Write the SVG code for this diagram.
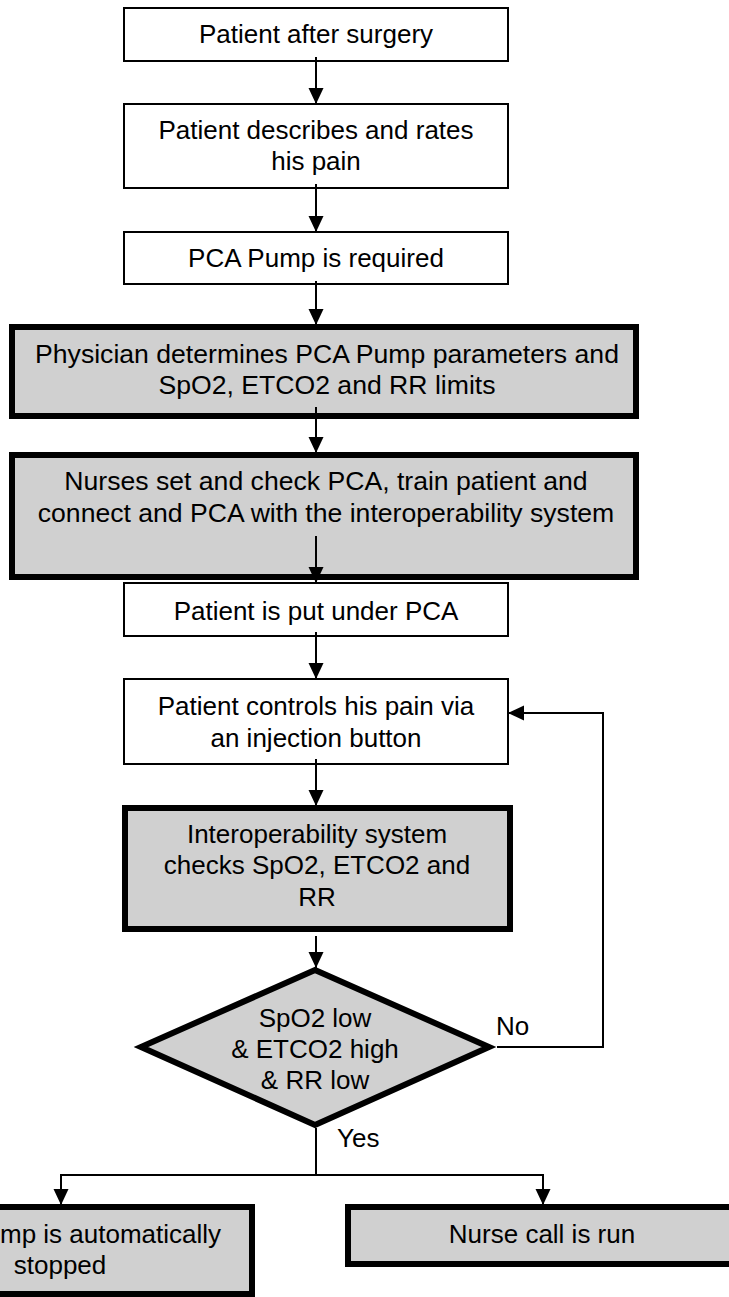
<svg xmlns="http://www.w3.org/2000/svg" width="729" height="1297" viewBox="0 0 729 1297">
<defs>
<style>
text{font-family:"Liberation Sans",Arial,sans-serif;font-size:26px;fill:#000;text-anchor:middle}
.wide{font-size:26.6px}
.thin{fill:#fff;stroke:#000;stroke-width:2}
.thick{fill:#d0d0d0;stroke:#000;stroke-width:6}
.conn{fill:none;stroke:#000;stroke-width:2}
</style>
<marker id="arr" markerUnits="userSpaceOnUse" markerWidth="16" markerHeight="16" refX="16" refY="7.5" orient="auto">
<path d="M0,0 L16,7.5 L0,15 z" fill="#000"/>
</marker>
</defs>
<rect width="729" height="1297" fill="#fff"/>
<g id="n1"><rect class="thin" x="124" y="8" width="384" height="53"/><text x="316" y="43">Patient after surgery</text></g>
<g id="n2"><rect class="thin" x="124" y="104" width="384" height="84"/><text x="316" y="139">Patient describes and rates</text><text x="316" y="170">his pain</text></g>
<g id="n3"><rect class="thin" x="124" y="232" width="384" height="52"/><text x="316" y="267">PCA Pump is required</text></g>
<g id="n4"><rect class="thick" x="12" y="327" width="624" height="89"/><text class="wide" x="327" y="363">Physician determines PCA Pump parameters and</text><text class="wide" x="327" y="394">SpO2, ETCO2 and RR limits</text></g>
<g id="n5"><rect class="thick" x="12" y="455" width="624" height="122"/><text class="wide" x="326" y="490">Nurses set and check PCA, train patient and</text><text class="wide" x="326" y="522">connect and PCA with the interoperability system</text></g>
<g id="n6"><rect class="thin" x="124" y="583" width="384" height="53"/><text x="316" y="620">Patient is put under PCA</text></g>
<g id="n7"><rect class="thin" x="124" y="679" width="384" height="85"/><text x="316" y="715">Patient controls his pain via</text><text x="316" y="747">an injection button</text></g>
<g id="n8"><rect class="thick" x="125" y="808" width="385" height="121"/><text x="317" y="843">Interoperability system</text><text x="317" y="874">checks SpO2, ETCO2 and</text><text x="317" y="906">RR</text></g>
<g id="n9"><polygon class="thick" points="315,970 489,1047 315,1125 141,1047"/><text x="315" y="1027">SpO2 low</text><text x="315" y="1058">&amp; ETCO2 high</text><text x="315" y="1089">&amp; RR low</text></g>
<g id="n10"><rect class="thick" x="-20" y="1207" width="272" height="87"/><text x="0" y="1243" style="text-anchor:start">mp is automatically</text><text x="60" y="1274">stopped</text></g>
<g id="n11"><rect class="thick" x="348" y="1207" width="400" height="57"/><text x="542" y="1243">Nurse call is run</text></g>
<g id="connectors">
<line class="conn" x1="316" y1="57" x2="316" y2="104" marker-end="url(#arr)"/>
<line class="conn" x1="316" y1="184" x2="316" y2="232" marker-end="url(#arr)"/>
<line class="conn" x1="316" y1="281" x2="316" y2="325" marker-end="url(#arr)"/>
<line class="conn" x1="316" y1="407" x2="316" y2="453" marker-end="url(#arr)"/>
<line class="conn" x1="316" y1="536" x2="316" y2="583" marker-end="url(#arr)"/>
<line class="conn" x1="316" y1="632" x2="316" y2="679" marker-end="url(#arr)"/>
<line class="conn" x1="316" y1="759" x2="316" y2="806" marker-end="url(#arr)"/>
<line class="conn" x1="316" y1="936" x2="316" y2="968" marker-end="url(#arr)"/>
<polyline class="conn" points="497,1047 603,1047 603,713 508,713" marker-end="url(#arr)"/>
<line class="conn" x1="316" y1="1128" x2="316" y2="1175"/>
<line class="conn" x1="60" y1="1175" x2="544" y2="1175"/>
<line class="conn" x1="61" y1="1175" x2="61" y2="1205" marker-end="url(#arr)"/>
<line class="conn" x1="543" y1="1175" x2="543" y2="1205" marker-end="url(#arr)"/>
<text x="496" y="1035" style="text-anchor:start">No</text>
<text x="337" y="1147" style="text-anchor:start">Yes</text>
</g>
</svg>
